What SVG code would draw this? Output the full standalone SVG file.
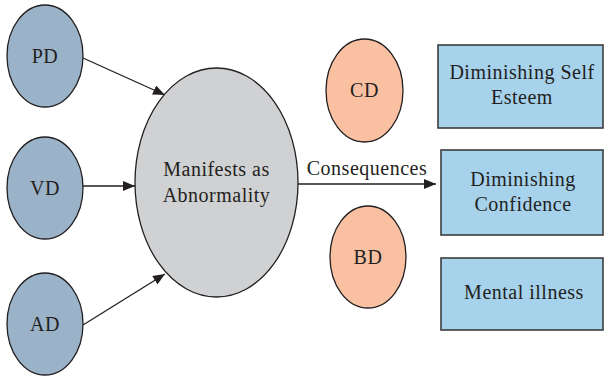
<svg xmlns="http://www.w3.org/2000/svg" width="606" height="379" viewBox="0 0 606 379">
<style>
text{font-family:"Liberation Serif","Times New Roman",serif;font-size:20px;letter-spacing:0.5px;fill:#231f20;text-anchor:middle}
.src{fill:#9bb3c8;stroke:#231f20;stroke-width:1.3}
.cd{fill:#f9c1a2;stroke:#231f20;stroke-width:1.3}
.main{fill:#d0d1d3;stroke:#231f20;stroke-width:1.3}
.box{fill:#a6d2ec;stroke:#3c3c3c;stroke-width:1.6}
.edge{stroke:#231f20;stroke-width:1.3;fill:none;marker-end:url(#ah)}
</style>
<defs>
<marker id="ah" markerWidth="12" markerHeight="10" refX="12" refY="5" orient="auto" markerUnits="userSpaceOnUse">
<path d="M0,0 L12,5 L0,10 Z" fill="#231f20"/>
</marker>
</defs>
<g id="connectors">
<line class="edge" x1="83" y1="58" x2="165" y2="95"/>
<line class="edge" x1="83" y1="186" x2="135" y2="186"/>
<line class="edge" x1="83" y1="325" x2="165" y2="274"/>
<line class="edge" x1="298" y1="184" x2="436" y2="184"/>
<text x="367" y="175">Consequences</text>
</g>
<g id="PD"><ellipse class="src" cx="45" cy="56" rx="38" ry="51"/><text x="45" y="63">PD</text></g>
<g id="VD"><ellipse class="src" cx="45" cy="188" rx="38" ry="51"/><text x="45" y="195">VD</text></g>
<g id="AD"><ellipse class="src" cx="45" cy="324" rx="38" ry="51"/><text x="45" y="331">AD</text></g>
<g id="abnormality"><ellipse class="main" cx="216.5" cy="182.5" rx="81.5" ry="114.5"/><text x="216.5" y="176">Manifests as</text><text x="216.5" y="202">Abnormality</text></g>
<g id="CD"><ellipse class="cd" cx="364.5" cy="90.5" rx="38.5" ry="51.5"/><text x="364.5" y="97">CD</text></g>
<g id="BD"><ellipse class="cd" cx="368" cy="257" rx="38" ry="51"/><text x="368" y="264">BD</text></g>
<g id="self-esteem"><rect class="box" x="438" y="45" width="165" height="83"/><text x="522" y="79">Diminishing Self</text><text x="522" y="104">Esteem</text></g>
<g id="confidence"><rect class="box" x="441" y="150" width="162" height="85"/><text x="523" y="186">Diminishing</text><text x="523" y="211">Confidence</text></g>
<g id="mental-illness"><rect class="box" x="441" y="258" width="162" height="72"/><text x="524" y="299">Mental illness</text></g>
</svg>
